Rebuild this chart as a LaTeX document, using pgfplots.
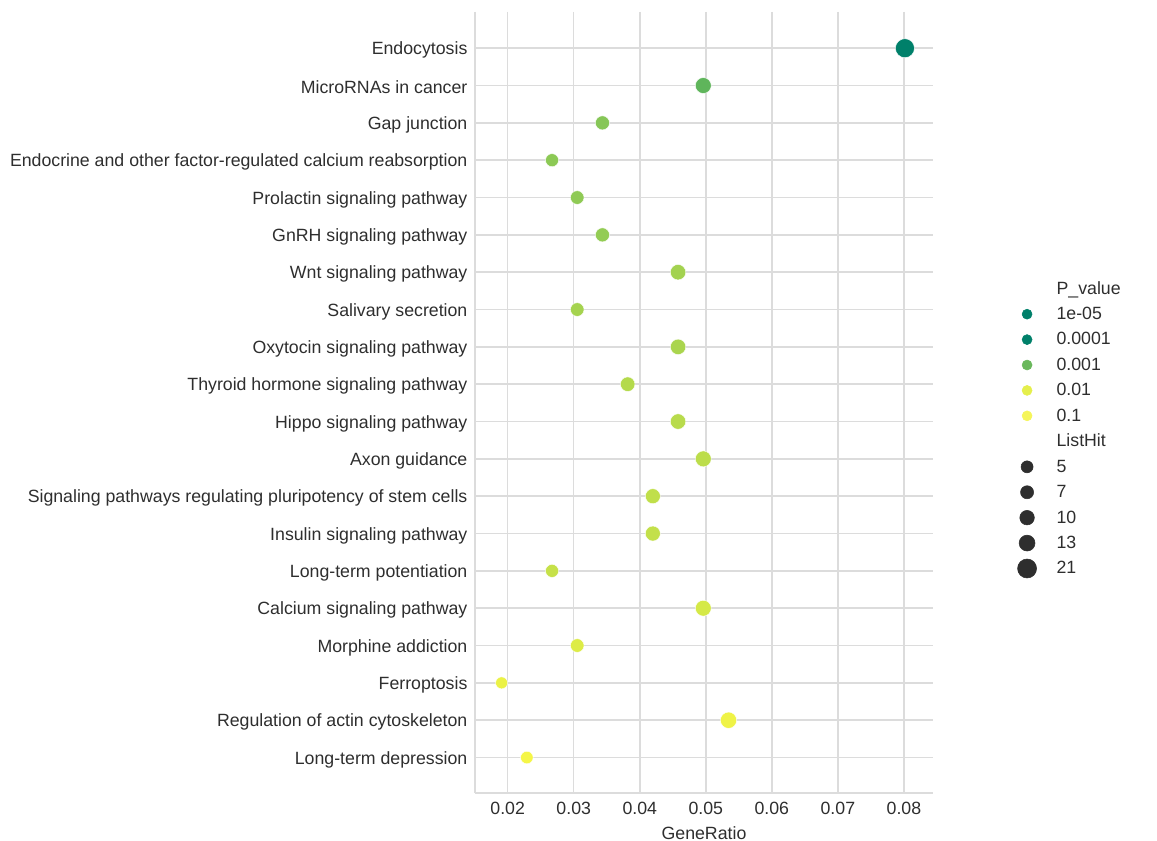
\documentclass[border=0pt]{standalone}
\usepackage{fontspec}
\setmainfont{Liberation Sans}
\usepackage{pgfplots}
\pgfplotsset{compat=1.18}
\definecolor{gridc}{HTML}{DCDCDC}
\definecolor{txt}{HTML}{2E2E2E}
\definecolor{c0}{HTML}{00806A}
\definecolor{c1}{HTML}{5FB55B}
\definecolor{c2}{HTML}{86C657}
\definecolor{c3}{HTML}{8CC955}
\definecolor{c4}{HTML}{8FCA55}
\definecolor{c5}{HTML}{93CC54}
\definecolor{c6}{HTML}{A3D250}
\definecolor{c7}{HTML}{A5D34F}
\definecolor{c8}{HTML}{AAD54E}
\definecolor{c9}{HTML}{B4DA4C}
\definecolor{c10}{HTML}{B8DB4C}
\definecolor{c11}{HTML}{BCDD4B}
\definecolor{c12}{HTML}{C0DF4A}
\definecolor{c13}{HTML}{C3E04A}
\definecolor{c14}{HTML}{C6E149}
\definecolor{c15}{HTML}{D5E947}
\definecolor{c16}{HTML}{DDEC47}
\definecolor{c17}{HTML}{EBF246}
\definecolor{c18}{HTML}{EFF346}
\definecolor{c19}{HTML}{F5F647}
\definecolor{lg1}{HTML}{00806A}
\definecolor{lg2}{HTML}{00806A}
\definecolor{lg3}{HTML}{6AB85C}
\definecolor{lg4}{HTML}{E5EF4C}
\definecolor{lg5}{HTML}{F5F55A}
\definecolor{dark}{HTML}{2E2E2E}
\newcommand{\pdot}[4]{\addplot[forget plot, only marks, mark=*, mark size=#3, color=#4, mark options={draw=white, line width=0.3pt}] coordinates {(#1,#2)};}
\newcommand{\fs}{\fontsize{13.3}{16}\selectfont}
\newcommand{\lgt}[1]{\rule[-2.8pt]{0pt}{12.3pt}#1}
\begin{document}
\begin{tikzpicture}
\begin{axis}[
  at={(0,0)}, anchor=south west, scale only axis,
  width=343.5pt, height=585.75pt,
  xmin=0.01505, xmax=0.0844, ymin=-0.97, ymax=19.95, y dir=reverse,
  scaled x ticks=false,
  axis x line*=bottom, axis y line*=left,
  axis line style={draw=gridc, line width=1.1pt, -},
  major tick length=0pt, tick style={draw=none},
  grid=major, major grid style={draw=gridc, line width=1.1pt},
  xtick={0.02,0.03,0.04,0.05,0.06,0.07,0.08},
  xticklabels={0.02,0.03,0.04,0.05,0.06,0.07,0.08},
  ytick={0,1,2,3,4,5,6,7,8,9,10,11,12,13,14,15,16,17,18,19},
  yticklabels={Endocytosis,MicroRNAs in cancer,Gap junction,Endocrine and other factor-regulated calcium reabsorption,Prolactin signaling pathway,GnRH signaling pathway,Wnt signaling pathway,Salivary secretion,Oxytocin signaling pathway,Thyroid hormone signaling pathway,Hippo signaling pathway,Axon guidance,Signaling pathways regulating pluripotency of stem cells,Insulin signaling pathway,Long-term potentiation,Calcium signaling pathway,Morphine addiction,Ferroptosis,Regulation of actin cytoskeleton,Long-term depression},
  ticklabel style={font=\fs, text=txt},
  yticklabel style={inner xsep=0pt, xshift=-5.5pt, yshift=-1.5pt},
  xticklabel style={inner ysep=0pt, yshift=-6.5pt},
  xlabel={GeneRatio},
  xlabel style={at={(axis description cs:0.5,0)}, anchor=north, yshift=-25pt, inner sep=0pt, font=\fs, text=txt},
  legend cell align=left,
  legend style={at={(1.180,0.659)}, anchor=north west, draw=none, fill=none, font=\fs, text=txt, inner sep=0pt, row sep=4.06pt,
    /tikz/every odd column/.append style={column sep=13pt}},
]
\addlegendimage{empty legend}\addlegendentry{\lgt{P\_value}}
\addlegendimage{only marks, mark=*, mark size=3.75pt, color=lg1}\addlegendentry{\lgt{1e-05}}
\addlegendimage{only marks, mark=*, mark size=3.75pt, color=lg2}\addlegendentry{\lgt{0.0001}}
\addlegendimage{only marks, mark=*, mark size=3.75pt, color=lg3}\addlegendentry{\lgt{0.001}}
\addlegendimage{only marks, mark=*, mark size=3.75pt, color=lg4}\addlegendentry{\lgt{0.01}}
\addlegendimage{only marks, mark=*, mark size=3.75pt, color=lg5}\addlegendentry{\lgt{0.1}}
\addlegendimage{empty legend}\addlegendentry{\lgt{ListHit}}
\addlegendimage{only marks, mark=*, mark size=4.50pt, color=dark}\addlegendentry{\lgt{5}}
\addlegendimage{only marks, mark=*, mark size=4.91pt, color=dark}\addlegendentry{\lgt{7}}
\addlegendimage{only marks, mark=*, mark size=5.46pt, color=dark}\addlegendentry{\lgt{10}}
\addlegendimage{only marks, mark=*, mark size=5.96pt, color=dark}\addlegendentry{\lgt{13}}
\addlegendimage{only marks, mark=*, mark size=7.13pt, color=dark}\addlegendentry{\lgt{21}}
\pdot{0.08015}{0}{7.13pt}{c0}
\pdot{0.04962}{1}{5.96pt}{c1}
\pdot{0.03435}{2}{5.28pt}{c2}
\pdot{0.02672}{3}{4.91pt}{c3}
\pdot{0.03053}{4}{5.10pt}{c4}
\pdot{0.03435}{5}{5.28pt}{c5}
\pdot{0.04580}{6}{5.80pt}{c6}
\pdot{0.03053}{7}{5.10pt}{c7}
\pdot{0.04580}{8}{5.80pt}{c8}
\pdot{0.03817}{9}{5.46pt}{c9}
\pdot{0.04580}{10}{5.80pt}{c10}
\pdot{0.04962}{11}{5.96pt}{c11}
\pdot{0.04198}{12}{5.63pt}{c12}
\pdot{0.04198}{13}{5.63pt}{c13}
\pdot{0.02672}{14}{4.91pt}{c14}
\pdot{0.04962}{15}{5.96pt}{c15}
\pdot{0.03053}{16}{5.10pt}{c16}
\pdot{0.01908}{17}{4.50pt}{c17}
\pdot{0.05344}{18}{6.12pt}{c18}
\pdot{0.02290}{19}{4.71pt}{c19}
\end{axis}
\pgfresetboundingbox
\path[use as bounding box] (-356.25pt,-36pt) rectangle (511.5pt,594.75pt);
\end{tikzpicture}
\end{document}
